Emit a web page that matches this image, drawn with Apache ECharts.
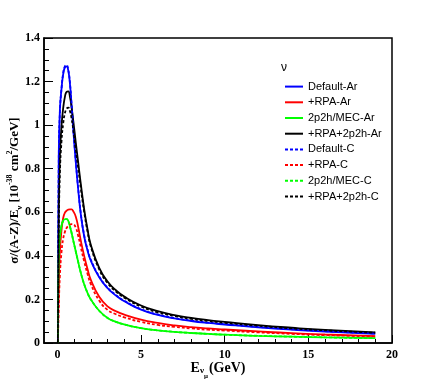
<!DOCTYPE html>
<html>
<head>
    <meta charset="UTF-8">
    <title>Cross section per neutron</title>
    <script src="https://cdn.jsdelivr.net/npm/echarts@6/dist/echarts.min.js"></script>
    <style>
        html, body { margin: 0; padding: 0; background: #fff; }
    </style>
</head>
<body>
    <div id="main" style="width: 436px;height:382px;"></div>
    <script type="text/javascript">
        // energy grid (GeV), shared by all curves
        var energies = [0.03, 0.08, 0.15, 0.25, 0.35, 0.45, 0.55, 0.65, 0.75, 0.85, 0.95, 1.1, 1.25, 1.4, 1.6, 1.8, 2, 2.5, 3, 3.5, 4, 5, 6, 7, 8, 9, 10, 12, 14, 16, 19];

        // values
        var defaultAr = [0, 0.85, 1.07, 1.17, 1.235, 1.265, 1.27, 1.25, 1.19, 1.09, 0.98, 0.83, 0.7, 0.59, 0.49, 0.425, 0.378, 0.302, 0.252, 0.218, 0.192, 0.153, 0.129, 0.113, 0.101, 0.092, 0.085, 0.072, 0.061, 0.052, 0.042];
        var rpaAr = [0, 0.25, 0.42, 0.52, 0.575, 0.598, 0.607, 0.612, 0.613, 0.613, 0.605, 0.58, 0.53, 0.47, 0.4, 0.34, 0.29, 0.212, 0.168, 0.146, 0.13, 0.107, 0.092, 0.081, 0.073, 0.067, 0.062, 0.053, 0.045, 0.039, 0.032];
        var mecAr = [0, 0.4, 0.49, 0.54, 0.562, 0.568, 0.569, 0.56, 0.535, 0.505, 0.47, 0.42, 0.37, 0.322, 0.27, 0.23, 0.2, 0.148, 0.115, 0.097, 0.085, 0.068, 0.058, 0.051, 0.046, 0.042, 0.038, 0.033, 0.029, 0.026, 0.022];
        var rpa2p2hAr = [0, 0.6, 0.86, 1.0, 1.08, 1.13, 1.153, 1.155, 1.13, 1.08, 1.02, 0.92, 0.825, 0.73, 0.615, 0.522, 0.45, 0.345, 0.282, 0.242, 0.213, 0.172, 0.146, 0.128, 0.115, 0.105, 0.097, 0.082, 0.07, 0.06, 0.049];
        var defaultC = [0, 0.82, 1.06, 1.17, 1.24, 1.27, 1.275, 1.255, 1.195, 1.095, 0.985, 0.835, 0.705, 0.595, 0.495, 0.43, 0.382, 0.305, 0.254, 0.22, 0.194, 0.155, 0.131, 0.115, 0.103, 0.094, 0.087, 0.074, 0.063, 0.054, 0.044];
        var rpaC = [0, 0.15, 0.31, 0.42, 0.48, 0.51, 0.528, 0.538, 0.544, 0.546, 0.545, 0.53, 0.49, 0.44, 0.375, 0.318, 0.27, 0.195, 0.152, 0.132, 0.118, 0.097, 0.083, 0.074, 0.067, 0.061, 0.057, 0.049, 0.042, 0.036, 0.03];
        var mecC = [0, 0.4, 0.49, 0.54, 0.562, 0.568, 0.569, 0.56, 0.535, 0.505, 0.47, 0.42, 0.37, 0.322, 0.27, 0.23, 0.2, 0.148, 0.115, 0.097, 0.085, 0.068, 0.058, 0.051, 0.046, 0.042, 0.038, 0.033, 0.029, 0.026, 0.022];
        var rpa2p2hC = [0, 0.5, 0.78, 0.93, 1.01, 1.055, 1.075, 1.08, 1.065, 1.03, 0.98, 0.89, 0.8, 0.71, 0.603, 0.513, 0.443, 0.338, 0.275, 0.236, 0.208, 0.167, 0.141, 0.124, 0.111, 0.101, 0.093, 0.079, 0.067, 0.058, 0.047];

        var xMajorTicks = [0, 5, 10, 15, 20];
        var xMinorTicks = [1, 2, 3, 4, 6, 7, 8, 9, 11, 12, 13, 14, 16, 17, 18, 19];

        var curves = [
            ['Default-Ar', defaultAr, '#0000ff', 'solid'],
            ['+RPA-Ar', rpaAr, '#ff0000', 'solid'],
            ['2p2h/MEC-Ar', mecAr, '#00ff00', 'solid'],
            ['+RPA+2p2h-Ar', rpa2p2hAr, '#000000', 'solid'],
            ['Default-C', defaultC, '#0000ff', [3, 2]],
            ['+RPA-C', rpaC, '#ff0000', [3, 2]],
            ['2p2h/MEC-C', mecC, '#00ff00', [3, 2]],
            ['+RPA+2p2h-C', rpa2p2hC, '#000000', [3, 2]]
        ];

        var myChart = echarts.init(document.getElementById('main'));

        var serif = 'Liberation Serif';
        var sans = 'Liberation Sans';

        var series = curves.map(function (c) {
            return {
                name: c[0],
                type: 'line',
                xAxisIndex: 0,
                symbol: 'none',
                smooth: 0.5,
                color: c[2],
                lineStyle: { color: c[2], width: 1.8, type: c[3] },
                data: energies.map(function (e, i) { return [e, c[1][i]]; })
            };
        });

        var option = {
            animation: false,
            title: {
                text: 'ν',
                left: 276,
                top: 57,
                textStyle: { fontFamily: sans, fontSize: 12, fontWeight: 'normal', color: '#000' }
            },
            legend: {
                orient: 'vertical',
                left: 279,
                top: 76,
                itemWidth: 18,
                itemHeight: 14,
                itemGap: 4.5,
                itemStyle: { opacity: 0 },
                textStyle: { fontFamily: sans, fontSize: 11, color: '#000' },
                data: curves.map(function (c) { return c[0]; })
            },
            grid: {
                left: 44, right: 44, top: 38, bottom: 39,
                outerBoundsMode: 'none',
                containLabel: false,
                show: true,
                borderColor: '#000',
                borderWidth: 1.5
            },
            xAxis: [{
                type: 'value',
                min: -0.8,
                max: 20,
                splitLine: { show: false },
                axisLine: { onZero: false, lineStyle: { color: '#000', width: 1.5 } },
                axisTick: { inside: true, length: 8, customValues: xMajorTicks, lineStyle: { color: '#000' } },
                axisLabel: {
                    customValues: xMajorTicks,
                    fontFamily: serif, fontSize: 12, fontWeight: 'bold', color: '#000', margin: 6
                },
                name: '{a|E}{s|ν}{ss|μ}{a|(GeV)}',
                nameLocation: 'middle',
                nameGap: 16,
                nameMoveOverlap: false,
                nameTextStyle: {
                    rich: {
                        a: { fontFamily: serif, fontSize: 14, fontWeight: 'bold', color: '#000', lineHeight: 18 },
                        s: { fontFamily: serif, fontSize: 9, fontWeight: 'bold', color: '#000', verticalAlign: 'bottom', padding: [0, 0, 2, 0] },
                        ss: { fontFamily: serif, fontSize: 7, fontWeight: 'bold', color: '#000', verticalAlign: 'bottom', padding: [0, 1, -3, 0] }
                    }
                }
            }, {
                type: 'value',
                min: -0.8,
                max: 20,
                position: 'bottom',
                splitLine: { show: false },
                axisLine: { show: false, onZero: false },
                axisLabel: { show: false },
                axisTick: { inside: true, length: 4, customValues: xMinorTicks, lineStyle: { color: '#000' } }
            }],
            yAxis: {
                type: 'value',
                min: 0,
                max: 1.4,
                interval: 0.2,
                splitLine: { show: false },
                axisLine: { show: true, onZero: false, lineStyle: { color: '#000', width: 1.5 } },
                axisTick: { inside: true, length: 9, lineStyle: { color: '#000' } },
                minorTick: { show: true, splitNumber: 4, length: 5, lineStyle: { color: '#000' } },
                axisLabel: { fontFamily: serif, fontSize: 12, fontWeight: 'bold', color: '#000', margin: 4 },
                name: '{a|σ/(A-Z)/E}{s|ν}{a| [10}{p|-38}{a| cm}{p|2}{a|/GeV]}',
                nameLocation: 'middle',
                nameGap: 20,
                nameMoveOverlap: false,
                nameTextStyle: {
                    rich: {
                        a: { fontFamily: serif, fontSize: 13, fontWeight: 'bold', color: '#000', lineHeight: 18 },
                        s: { fontFamily: serif, fontSize: 9, fontWeight: 'bold', color: '#000', verticalAlign: 'bottom' },
                        p: { fontFamily: serif, fontSize: 8, fontWeight: 'bold', color: '#000', verticalAlign: 'top' }
                    }
                }
            },
            series: series
        };

        myChart.setOption(option);
    </script>
</body>
</html>
